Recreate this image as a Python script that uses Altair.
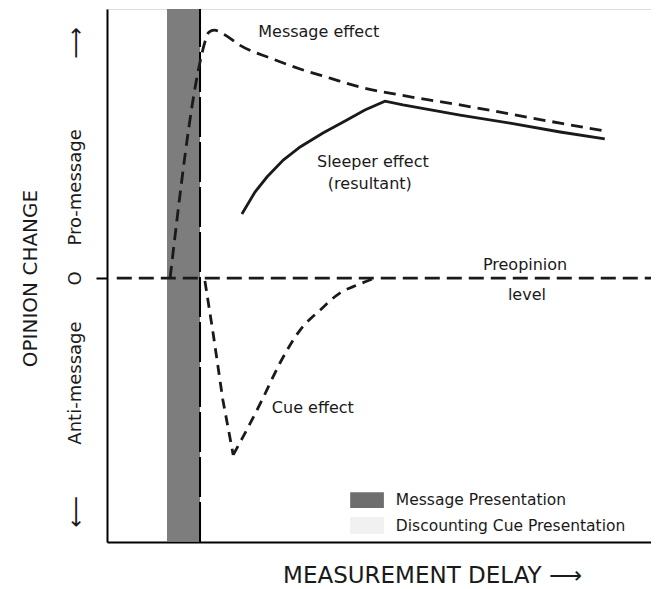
import altair as alt
import pandas as pd

# ---- data (x: measurement delay 0-100, y: opinion change, 0 = preopinion level)
msg_x = [11.6, 17.1, 18.0, 18.75, 19.7, 21.7, 24.4, 30.0, 35.5, 41.0, 46.5, 53.9, 64.9, 74.1, 83.3, 91.5]
msg_y = [0.0, 0.806, 0.881, 0.918, 0.925, 0.907, 0.869, 0.821, 0.780, 0.746, 0.713, 0.683, 0.646, 0.612, 0.578, 0.549]

sleeper_x = [24.8, 27.2, 29.4, 32.4, 35.5, 39.7, 44.1, 47.4, 51.1, 54.4, 64.9, 74.1, 83.3, 91.5]
sleeper_y = [0.239, 0.321, 0.377, 0.440, 0.489, 0.541, 0.590, 0.627, 0.660, 0.646, 0.608, 0.578, 0.545, 0.519]

# cue effect: drop to the trough, then recovery
cue_down_x = [18.0, 19.5, 21.3, 23.2]
cue_down_y = [-0.011, -0.205, -0.455, -0.660]
cue_up_x = [23.2, 25.0, 28.5, 31.8, 35.5, 39.2, 42.8, 46.0, 48.7]
cue_up_y = [-0.660, -0.593, -0.455, -0.317, -0.194, -0.119, -0.056, -0.026, -0.004]

pre_x = [1.8, 100.0]
pre_y = [0.0, 0.0]

band_x = [11.03]
band_x2 = [17.1]
cue_time = [17.1]

y_lo, y_hi = -0.985, 1.004

label_text = ["Message effect", "Sleeper effect", "(resultant)", "Preopinion", "level", "Cue effect"]
label_x = [27.8, 38.6, 40.6, 69.1, 73.7, 30.3]
label_y = [0.918, 0.433, 0.351, 0.049, -0.063, -0.485]

legend_text = ["Message Presentation", "Discounting Cue Presentation"]
legend_box_x = [44.7]
legend_box_x2 = [50.9]
legend_box_y = [-0.799, -0.892]
legend_box_y2 = [-0.858, -0.955]
legend_box_color = ["#6e6e6e", "#f1f1f1"]
legend_text_x = [53.1, 53.1]
legend_text_y = [-0.828, -0.925]

ytick_values = [0.88, 0.34, 0.0, -0.39, -0.87]

FONT = "DejaVu Sans"
INK = "#1a1a1a"

xs = alt.Scale(domain=[0, 100], nice=False, zero=False)
ys = alt.Scale(domain=[y_lo, y_hi], nice=False, zero=False)

def line_df(xv, yv):
    return pd.DataFrame({"x": xv, "y": yv, "i": list(range(len(xv)))})

x_axis = alt.Axis(
    title="MEASUREMENT DELAY  ⟶", labels=False, ticks=False, grid=False,
    domainColor="black", domainWidth=2,
    titleFont=FONT, titleFontSize=23, titleFontWeight="normal", titleColor=INK,
    titleX=325, titleY=33, titleAlign="center", titleBaseline="middle", titleAngle=0,
)
y_axis = alt.Axis(
    title="OPINION CHANGE", values=ytick_values, grid=False,
    labelExpr="datum.value == 0 ? 'O' : (datum.value > 0.6 ? '⟶' : (datum.value > 0 ? 'Pro-message' : (datum.value < -0.6 ? '⟵' : 'Anti-message')))",
    labelAngle=270, labelAlign="center", labelBaseline="middle",
    labelFont=FONT, labelColor=INK, labelPadding=21,
    labelFontSize={"condition": {"test": "abs(datum.value) > 0.6", "value": 22}, "value": 18},
    labelOverlap=False, labelBound=False, labelFlush=False,
    tickSize=11, tickWidth=2, tickColor="black",
    tickOpacity={"condition": {"test": "datum.value === 0", "value": 1}, "value": 0},
    domainColor="black", domainWidth=2,
    titleFont=FONT, titleFontSize=20, titleFontWeight="normal", titleColor=INK,
    titleX=-77, titleY=269, titleAngle=270, titleAlign="center", titleBaseline="middle",
)

band = alt.Chart(pd.DataFrame({"x": band_x, "x2": band_x2, "y": [y_lo], "y2": [y_hi]})).mark_rect(
    color="#767676", opacity=0.95
).encode(
    x=alt.X("x:Q", scale=xs, axis=x_axis),
    x2="x2:Q",
    y=alt.Y("y:Q", scale=ys, axis=y_axis),
    y2="y2:Q",
)

cue_rule = alt.Chart(pd.DataFrame({"x": cue_time, "y": [y_lo], "y2": [y_hi]})).mark_rule(
    color="black", strokeWidth=2, strokeDash=[40, 5]
).encode(x=alt.X("x:Q", scale=xs), y=alt.Y("y:Q", scale=ys), y2="y2:Q")

pre_line = alt.Chart(line_df(pre_x, pre_y)).mark_line(
    color=INK, strokeWidth=2.8, strokeDash=[15, 7]
).encode(x=alt.X("x:Q", scale=xs), y=alt.Y("y:Q", scale=ys), order="i:Q")

msg_line = alt.Chart(line_df(msg_x, msg_y)).mark_line(
    color=INK, strokeWidth=2.8, strokeDash=[12, 7], interpolate="monotone"
).encode(x=alt.X("x:Q", scale=xs), y=alt.Y("y:Q", scale=ys), order="i:Q")

sleeper_line = alt.Chart(line_df(sleeper_x, sleeper_y)).mark_line(
    color=INK, strokeWidth=2.8, interpolate="linear"
).encode(x=alt.X("x:Q", scale=xs), y=alt.Y("y:Q", scale=ys), order="i:Q")

cue_down_line = alt.Chart(line_df(cue_down_x, cue_down_y)).mark_line(
    color=INK, strokeWidth=2.8, strokeDash=[10, 7], interpolate="linear"
).encode(x=alt.X("x:Q", scale=xs), y=alt.Y("y:Q", scale=ys), order="i:Q")

cue_up_line = alt.Chart(line_df(cue_up_x, cue_up_y)).mark_line(
    color=INK, strokeWidth=2.8, strokeDash=[10, 7], interpolate="monotone"
).encode(x=alt.X("x:Q", scale=xs), y=alt.Y("y:Q", scale=ys), order="i:Q")

labels = alt.Chart(pd.DataFrame({"t": label_text, "x": label_x, "y": label_y})).mark_text(
    font=FONT, fontSize=16, color=INK, align="left", baseline="middle"
).encode(x=alt.X("x:Q", scale=xs), y=alt.Y("y:Q", scale=ys), text="t:N")

legend_boxes = alt.Chart(pd.DataFrame({
    "x": legend_box_x * 2, "x2": legend_box_x2 * 2,
    "y": legend_box_y, "y2": legend_box_y2, "c": legend_box_color,
})).mark_rect().encode(
    x=alt.X("x:Q", scale=xs), x2="x2:Q",
    y=alt.Y("y:Q", scale=ys), y2="y2:Q",
    color=alt.Color("c:N", scale=None),
)

legend_labels = alt.Chart(pd.DataFrame({"t": legend_text, "x": legend_text_x, "y": legend_text_y})).mark_text(
    font=FONT, fontSize=15.5, color=INK, align="left", baseline="middle"
).encode(x=alt.X("x:Q", scale=xs), y=alt.Y("y:Q", scale=ys), text="t:N")

chart = alt.layer(
    band, cue_rule, pre_line, msg_line, sleeper_line, cue_down_line, cue_up_line,
    labels, legend_boxes, legend_labels
).properties(
    width=544, height=533,
    padding={"left": 99, "top": 1, "right": 0, "bottom": 47},
    autosize=alt.AutoSizeParams(type="none"),
).configure_view(stroke=None).configure(background="white")

chart.save("out.html", embed_options={"renderer": "svg", "actions": False})
